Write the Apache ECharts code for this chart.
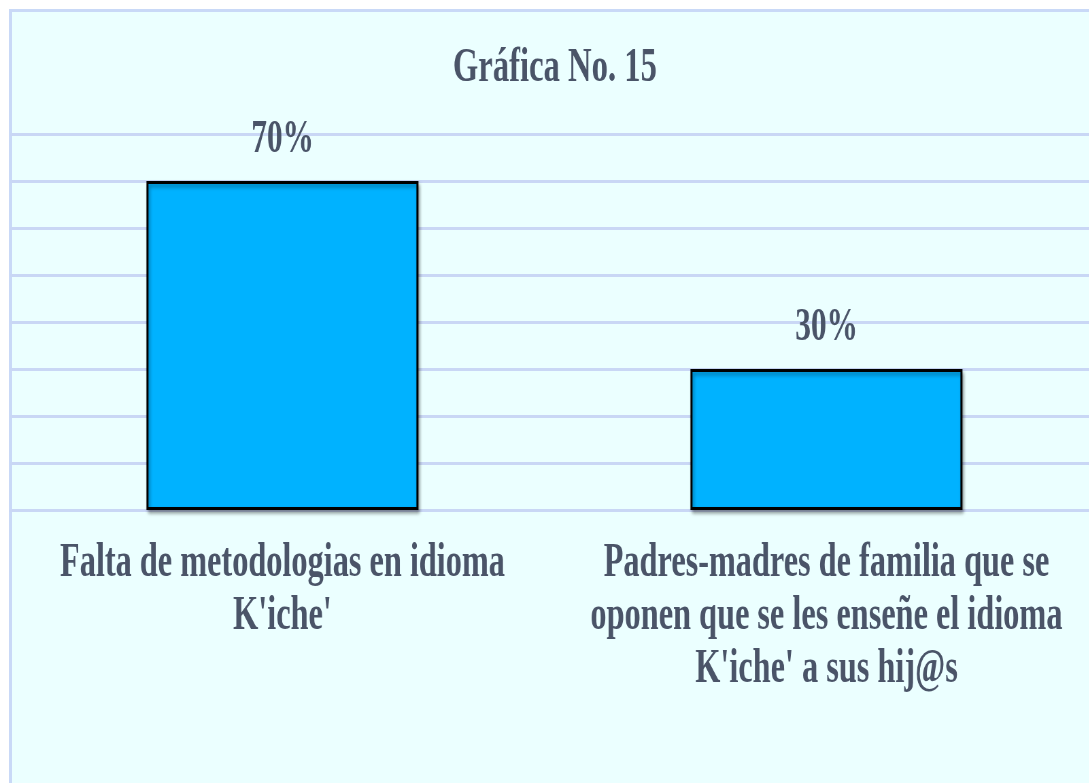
<!DOCTYPE html>
<html>
<head>
<meta charset="utf-8">
<script src="https://cdn.jsdelivr.net/npm/echarts@6/dist/echarts.min.js"></script>
<style>
html, body { margin: 0; padding: 0; width: 1089px; height: 783px; overflow: hidden; background: #ffffff; }
#box { position: absolute; left: 9px; top: 9px; width: 1200px; height: 900px; border-left: 3px solid #C9D9F7; border-top: 3px solid #C9D9F7; background: #EBFFFF; }
#chart { position: absolute; left: 0; top: 0; width: 1632px; height: 783px; transform: scaleX(0.68); transform-origin: 0 0; }
</style>
</head>
<body>
<div id="box"></div>
<div id="chart"></div>
<script>
const titleText = "Gráfica No. 15";
const categories = [
  "Falta de metodologias en idioma\nK'iche'",
  "Padres-madres de familia que se\noponen que se les enseñe el idioma\nK'iche' a sus hij@s"
];
const values = [70, 30];
const yMin = 0, yMax = 80, yStep = 10;

const textColor = '#4A5468';
const fontFam = "'Liberation Serif', 'Times New Roman', serif";

const chart = echarts.init(document.getElementById('chart'), null, { renderer: 'canvas' });
chart.setOption({
  backgroundColor: 'transparent',
  animation: false,
  title: {
    text: titleText,
    left: 'center',
    top: 40,
    textStyle: { fontFamily: fontFam, fontWeight: 'bold', fontSize: 48, color: textColor }
  },
  grid: { left: 15.4, width: 1600, top: 134, height: 376 },
  xAxis: {
    type: 'category',
    data: categories,
    axisLine: { show: true, lineStyle: { color: '#C9D7F5', width: 3 } },
    axisTick: { show: false },
    axisLabel: {
      interval: 0,
      margin: 27,
      fontFamily: fontFam, fontWeight: 'bold', fontSize: 47.5, lineHeight: 53,
      color: textColor, align: 'center'
    }
  },
  yAxis: {
    type: 'value',
    min: yMin, max: yMax, interval: yStep,
    axisLine: { show: false },
    axisTick: { show: false },
    axisLabel: { show: false },
    splitLine: { show: true, lineStyle: { color: '#C9D7F5', width: 3 } }
  },
  series: [{
    type: 'bar',
    data: values,
    barWidth: '50%',
    itemStyle: {
      color: '#00B2FF',
      borderColor: '#000000',
      borderWidth: 3,
      shadowColor: 'rgba(0,0,0,0.35)',
      shadowBlur: 4,
      shadowOffsetX: 2,
      shadowOffsetY: 3
    },
    label: {
      show: true,
      position: 'top',
      distance: 18,
      formatter: p => p.value + '%',
      fontFamily: fontFam, fontWeight: 'bold', fontSize: 46, color: textColor
    }
  }]
});
</script>
</body>
</html>
